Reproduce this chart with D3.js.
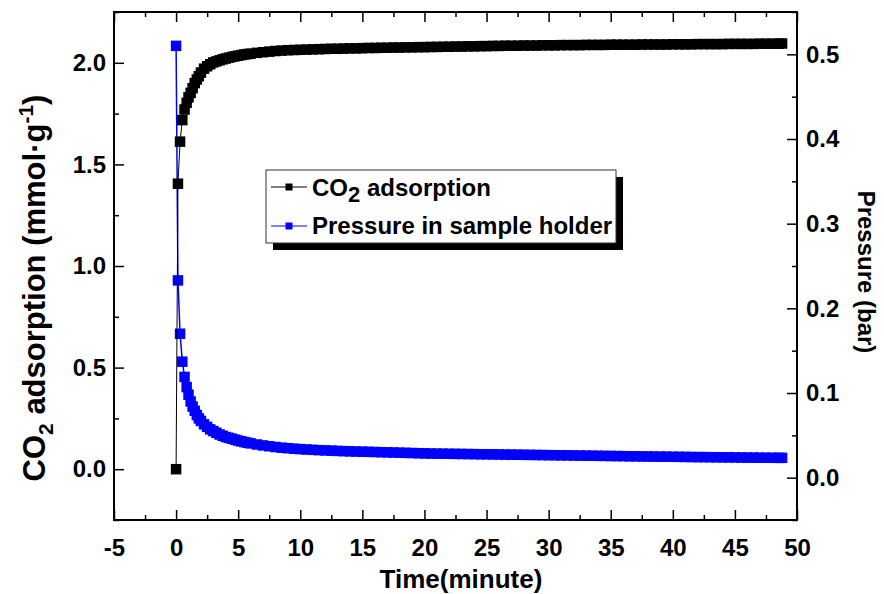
<!DOCTYPE html>
<html>
<head>
<meta charset="utf-8">
<script src="https://cdn.jsdelivr.net/npm/d3@7"></script>
<style>
  body { margin: 0; background: #fff; }
  text { font-family: "Liberation Sans", Arial, sans-serif; font-weight: bold; fill: #000; }
</style>
</head>
<body>
<svg id="chart" width="884" height="594"></svg>
<script>
// time in minutes
const time = [0, 0.15, 0.32, 0.5, 0.68, 0.85, 1, 1.17, 1.33, 1.5, 1.67, 1.83, 2, 2.25, 2.5, 2.75, 3,
  3.25, 3.5, 3.75, 4, 4.25, 4.5, 4.75, 5, 5.25, 5.5, 5.75, 6, 6.5, 7, 7.5, 8, 8.5, 9, 9.5, 10, 10.5, 11, 11.5, 12,
  12.5, 13, 13.5, 14, 14.5, 15, 15.5, 16, 16.5, 17, 17.5, 18, 18.5, 19, 19.5, 20, 20.5,
  21, 21.5, 22, 22.5, 23, 23.5, 24, 24.5, 25, 25.5, 26, 26.5, 27, 27.5, 28, 28.5, 29, 29.5, 30, 30.5,
  31, 31.5, 32, 32.5, 33, 33.5, 34, 34.5, 35, 35.5, 36, 36.5, 37, 37.5, 38, 38.5, 39, 39.5, 40, 40.5,
  41, 41.5, 42, 42.5, 43, 43.5, 44, 44.5, 45, 45.5, 46, 46.5, 47, 47.5, 48, 48.5, 48.8];

// CO2 adsorption, mmol/g (left axis)
const adsorption = [0, 1.405, 1.612, 1.718, 1.770, 1.803, 1.830, 1.852, 1.875, 1.900, 1.918, 1.934, 1.952, 1.971, 1.983, 1.993, 2.002,
  2.007, 2.012, 2.017, 2.021, 2.025, 2.029, 2.032, 2.035, 2.038, 2.041, 2.043, 2.045, 2.049, 2.052, 2.055, 2.058, 2.060, 2.062, 2.063, 2.064, 2.065, 2.066, 2.067, 2.068,
  2.069, 2.069, 2.070, 2.071, 2.071, 2.072, 2.073, 2.073, 2.074, 2.074, 2.075, 2.075, 2.076, 2.076, 2.077, 2.077, 2.078,
  2.078, 2.079, 2.079, 2.080, 2.080, 2.081, 2.081, 2.082, 2.082, 2.083, 2.083, 2.084, 2.084, 2.084, 2.085, 2.085, 2.085, 2.086, 2.086, 2.086,
  2.087, 2.087, 2.087, 2.087, 2.088, 2.088, 2.088, 2.088, 2.089, 2.089, 2.089, 2.089, 2.089, 2.090, 2.090, 2.090, 2.090, 2.090, 2.091, 2.091,
  2.091, 2.091, 2.092, 2.092, 2.092, 2.092, 2.092, 2.093, 2.093, 2.093, 2.093, 2.093, 2.094, 2.094, 2.094, 2.094, 2.095];

// pressure in sample holder, bar (right axis)
const pressure = [0.510, 0.233, 0.170, 0.137, 0.119, 0.107, 0.098, 0.090, 0.084, 0.079, 0.074, 0.070, 0.067, 0.063, 0.060, 0.057, 0.055,
  0.053, 0.051, 0.0495, 0.048, 0.047, 0.046, 0.0449, 0.0438, 0.0429, 0.042, 0.0412, 0.0405, 0.0392, 0.0381, 0.0371, 0.0362, 0.0354, 0.0348, 0.0342, 0.0337, 0.0333, 0.0329, 0.0325, 0.0322,
  0.0319, 0.0316, 0.0313, 0.0311, 0.0309, 0.0307, 0.0305, 0.0303, 0.0301, 0.0299, 0.0297, 0.0295, 0.0293, 0.0291, 0.0289, 0.0287, 0.0285,
  0.0284, 0.0283, 0.0282, 0.0281, 0.0280, 0.0279, 0.0278, 0.0277, 0.0276, 0.0275, 0.0274, 0.0273, 0.0272, 0.0271, 0.0270, 0.0269, 0.0268, 0.0267, 0.0266, 0.0265,
  0.0264, 0.0263, 0.0262, 0.0261, 0.0260, 0.0259, 0.0258, 0.0257, 0.0256, 0.0255, 0.0254, 0.0253, 0.0252, 0.0251, 0.0250, 0.0249, 0.0248, 0.0248, 0.0247, 0.0246,
  0.0245, 0.0244, 0.0243, 0.0243, 0.0242, 0.0241, 0.0240, 0.0240, 0.0239, 0.0238, 0.0237, 0.0237, 0.0236, 0.0235, 0.0235, 0.0234, 0.0234];

const xTicks = [-5, 0, 5, 10, 15, 20, 25, 30, 35, 40, 45, 50];
const xMinor = [-2.5, 2.5, 7.5, 12.5, 17.5, 22.5, 27.5, 32.5, 37.5, 42.5, 47.5];
const leftTicks = [0, 0.5, 1.0, 1.5, 2.0];
const leftMinor = [-0.25, 0.25, 0.75, 1.25, 1.75, 2.25];
const rightTicks = [0, 0.1, 0.2, 0.3, 0.4, 0.5];
const rightMinor = [-0.05, 0.05, 0.15, 0.25, 0.35, 0.45, 0.55];
const legendLabels = ["adsorption", "Pressure in sample holder"];

const svg = d3.select("#chart");
const L = 114, R = 797, T = 12, B = 520;

const x = d3.scaleLinear().domain([-5, 50]).range([L, R]);
const yL = d3.scaleLinear().domain([-0.25, 2.25]).range([B, T]);
const yR = d3.scaleLinear().domain([-0.05, 0.55]).range([B, T]);

const fmt1 = d3.format(".1f");
const fmtX = d => (d < 0 ? "-" + Math.abs(d) : String(d));

function styleAxis(g) {
  g.select(".domain").remove();
  g.selectAll(".tick line").attr("stroke", "#000").attr("stroke-width", 1.5);
  g.selectAll("text").style("font-size", "24px");
}

// bottom axis
svg.append("g").attr("transform", `translate(0,${B})`)
  .call(d3.axisBottom(x).tickValues(xTicks).tickSize(-10).tickPadding(19).tickFormat(fmtX))
  .call(styleAxis);
svg.append("g").attr("transform", `translate(0,${B})`)
  .call(d3.axisBottom(x).tickValues(xMinor).tickSize(-5).tickFormat(""))
  .call(styleAxis);
// top ticks
svg.append("g").attr("transform", `translate(0,${T})`)
  .call(d3.axisTop(x).tickValues(xTicks).tickSize(-10).tickFormat(""))
  .call(styleAxis);
svg.append("g").attr("transform", `translate(0,${T})`)
  .call(d3.axisTop(x).tickValues(xMinor).tickSize(-5).tickFormat(""))
  .call(styleAxis);
// left axis
svg.append("g").attr("transform", `translate(${L},0)`)
  .call(d3.axisLeft(yL).tickValues(leftTicks).tickSize(-10).tickPadding(8).tickFormat(fmt1))
  .call(styleAxis);
svg.append("g").attr("transform", `translate(${L},0)`)
  .call(d3.axisLeft(yL).tickValues(leftMinor).tickSize(-5).tickFormat(""))
  .call(styleAxis);
// right axis
svg.append("g").attr("transform", `translate(${R},0)`)
  .call(d3.axisRight(yR).tickValues(rightTicks).tickSize(-10).tickPadding(9).tickFormat(fmt1))
  .call(styleAxis);
svg.append("g").attr("transform", `translate(${R},0)`)
  .call(d3.axisRight(yR).tickValues(rightMinor).tickSize(-5).tickFormat(""))
  .call(styleAxis);

// frame
svg.append("rect").attr("x", L).attr("y", T).attr("width", R - L).attr("height", B - T)
  .attr("fill", "none").attr("stroke", "#000").attr("stroke-width", 2);

// series
const blueData = time.map((t, i) => [t, pressure[i]]);
const blackData = time.map((t, i) => [t, adsorption[i]]);
const ms = 10.5;

svg.append("path").datum(blueData)
  .attr("fill", "none").attr("stroke", "#0000ff").attr("stroke-width", 1.5)
  .attr("d", d3.line().x(d => x(d[0])).y(d => yR(d[1])));
svg.append("g").selectAll("rect").data(blueData).join("rect")
  .attr("x", d => x(d[0]) - ms / 2).attr("y", d => yR(d[1]) - ms / 2)
  .attr("width", ms).attr("height", ms).attr("fill", "#0000ff");

svg.append("path").datum(blackData)
  .attr("fill", "none").attr("stroke", "#000").attr("stroke-width", 1)
  .attr("d", d3.line().x(d => x(d[0])).y(d => yL(d[1])));
svg.append("g").selectAll("rect").data(blackData).join("rect")
  .attr("x", d => x(d[0]) - ms / 2).attr("y", d => yL(d[1]) - ms / 2)
  .attr("width", ms).attr("height", ms).attr("fill", "#000");

// axis titles
svg.append("text").attr("x", 461).attr("y", 588).attr("text-anchor", "middle")
  .style("font-size", "26px").text("Time(minute)");

const lt = svg.append("text").attr("transform", "translate(45,288) rotate(-90)")
  .attr("text-anchor", "middle").style("font-size", "31px");
lt.append("tspan").text("CO");
lt.append("tspan").attr("dy", 8).style("font-size", "21px").text("2");
lt.append("tspan").attr("dy", -8).text(" adsorption (mmol\u00b7g");
lt.append("tspan").attr("dy", -12).style("font-size", "21px").text("-1");
lt.append("tspan").attr("dy", 12).text(")");

svg.append("text").attr("transform", "translate(858,272) rotate(90)")
  .attr("text-anchor", "middle").style("font-size", "24px").text("Pressure (bar)");

// legend
const lg = svg.append("g");
lg.append("rect").attr("x", 273).attr("y", 177).attr("width", 350).attr("height", 73).attr("fill", "#000");
lg.append("rect").attr("x", 266).attr("y", 170).attr("width", 350).attr("height", 73)
  .attr("fill", "#fff").attr("stroke", "#333").attr("stroke-width", 1);

const rows = [
  {y: 187, color: "#000"},
  {y: 226, color: "#0000ff"}
];
rows.forEach(r => {
  lg.append("line").attr("x1", 271).attr("x2", 307).attr("y1", r.y).attr("y2", r.y)
    .attr("stroke", r.color).attr("stroke-width", 1);
  lg.append("rect").attr("x", 285.5).attr("y", r.y - 3.5).attr("width", 7).attr("height", 7).attr("fill", r.color);
});
const t1 = lg.append("text").attr("x", 312).attr("y", 196).style("font-size", "24px");
t1.append("tspan").text("CO");
t1.append("tspan").attr("dy", 6).style("font-size", "22px").text("2");
t1.append("tspan").attr("dy", -6).text(" " + legendLabels[0]);
lg.append("text").attr("x", 312).attr("y", 234).style("font-size", "24px").text(legendLabels[1]);
</script>
</body>
</html>
